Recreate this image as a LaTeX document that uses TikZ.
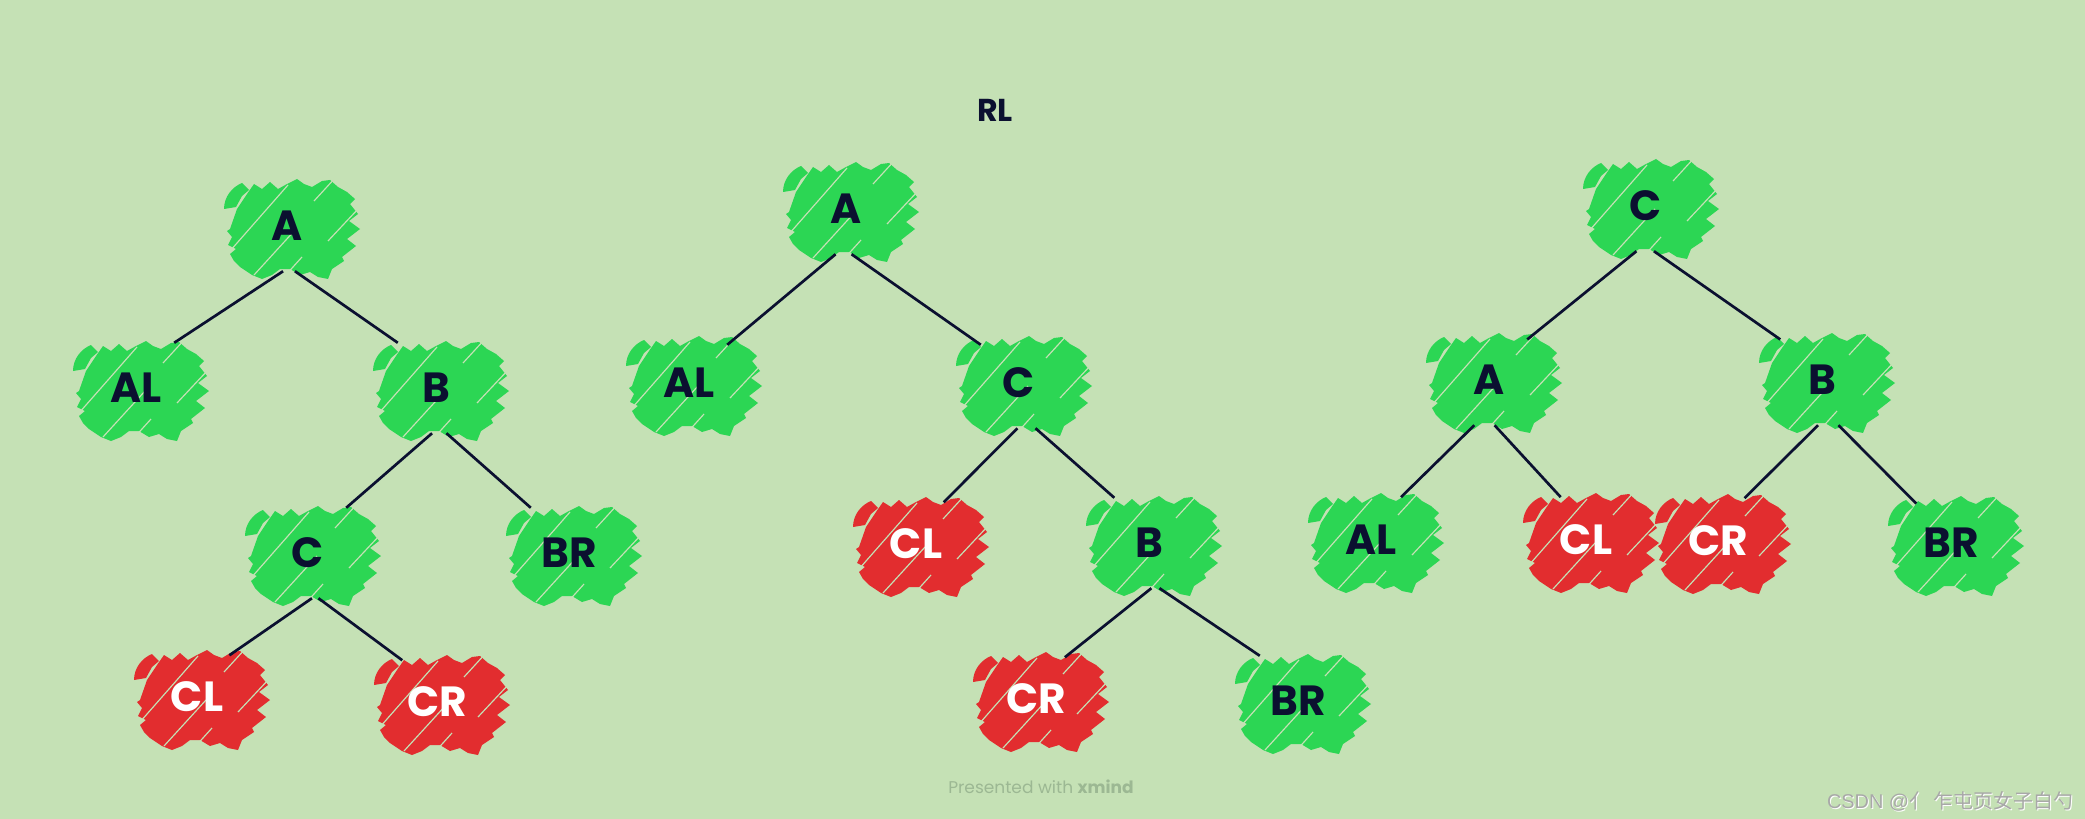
\documentclass[tikz,border=0pt]{standalone}
\usepackage{fontspec}
\setmainfont{Poppins}
\newfontfamily\cjk{Noto Sans CJK SC}
\newfontfamily\wm{Liberation Sans}
\usetikzlibrary{calc}
\definecolor{bgc}{HTML}{C5E1B5}
\definecolor{gfill}{HTML}{2CD654}
\definecolor{rfill}{HTML}{E22D2F}
\definecolor{ink}{HTML}{0B1030}
\definecolor{footc}{HTML}{9CB893}
\definecolor{wmc}{HTML}{A8A8A8}
\tikzset{
  x=0.03cm, y=-0.03cm,
  blob/.pic={
    \fill[#1] (-62,0) -- (-55,-20) -- (-45,-35) -- (-38,-45) -- (-30,-40) -- (-22,-47)
      -- (-14,-40) -- (-5,-45) -- (5,-50) -- (12,-45) -- (20,-42) -- (30,-48)
      -- (38,-49) -- (46,-42) -- (55,-37) -- (63,-30) -- (58,-25) -- (66,-15)
      -- (57,-8) -- (68,0) -- (55,10) -- (64,17) -- (50,28) -- (52,32) -- (40,40)
      -- (36,50) -- (26,48) -- (18,43) -- (8,46) -- (-2,40) -- (-12,40) -- (-20,46)
      -- (-30,50) -- (-40,46) -- (-52,38) -- (-58,32) -- (-62,25) -- (-56,20)
      -- (-64,16) -- (-60,8) -- (-65,2) -- cycle;
    \fill[#1] (-68,-20) .. controls (-68,-32) and (-60,-42) .. (-50,-46) -- (-43,-39)
      -- (-50,-33) -- (-56,-22) -- cycle;
    \begin{scope}
      \clip (-70,-60) rectangle (70,60);
      \draw[bgc, line width=1pt] (-62,22) -- (-4,-44);
      \draw[bgc, line width=1pt] (-38,46) -- (4,0);
      \draw[bgc, line width=1pt] (22,-28) -- (44,-52);
      \draw[bgc, line width=1pt] (36,12) -- (66,-20);
      \draw[bgc, line width=1pt] (-8,48) -- (10,28);
    \end{scope}
  },
  lbl/.style={rectangle, inner sep=0pt, minimum width=2.28cm, minimum height=2.7cm,
    font=\fontsize{36}{36}\selectfont\bfseries, text=ink},
  wlbl/.style={lbl, text=white},
  edge/.style={draw=ink, line width=2.3pt}
}
\newcommand\gnode[4]{\pic at ($(#2)+(5,3)$) {blob=gfill}; \node[lbl] (#1) at (#2) {#3};}
\newcommand\rnode[4]{\pic at ($(#2)+(5,3)$) {blob=rfill}; \node[wlbl] (#1) at (#2) {#3};}
\begin{document}
\begin{tikzpicture}
\fill[bgc] (0,0) rectangle (2085,819);
\useasboundingbox (0,0) rectangle (2085,819);

\node[font=\fontsize{27}{27}\selectfont\bfseries, text=ink] (title) at (995,110) {RL};

% Tree 1
\gnode{a1}{287,226}{A}{}
\gnode{al1}{136,388}{AL}{}
\gnode{b1}{436,388}{B}{}
\gnode{c1}{308,553}{C}{}
\gnode{br1}{569,553}{BR}{}
\rnode{cl1}{197,697}{CL}{}
\rnode{cr1}{437,702}{CR}{}
\draw[edge] (a1.265) -- (al1.north east);
\draw[edge] (a1.280) -- (b1.north west);
\draw[edge] (b1.265) -- (c1.north east);
\draw[edge] (b1.283) -- (br1.north west);
\draw[edge] (c1.275) -- ([xshift=-5pt,yshift=-3pt]cl1.north east);
\draw[edge] (c1.283) -- ([xshift=3pt,yshift=-3pt]cr1.north west);

% Tree 2
\gnode{a2}{846,209}{A}{}
\gnode{al2}{689,383}{AL}{}
\gnode{c2}{1019,383}{C}{}
\rnode{cl2}{916,544}{CL}{}
\gnode{b2}{1149,543}{B}{}
\rnode{cr2}{1036,699}{CR}{}
\gnode{br2}{1298,701}{BR}{}
\draw[edge] (a2.257) -- ([yshift=-6pt]al2.north east);
\draw[edge] (a2.277) -- ([yshift=-6pt]c2.north west);
\draw[edge] (c2.268) -- ([xshift=-9pt,yshift=-3pt]cl2.north east);
\draw[edge] (c2.290) -- ([xshift=3pt]b2.north west);
\draw[edge] (b2.273) -- ([xshift=-8pt,yshift=-3pt]cr2.north east);
\draw[edge] (b2.283) -- (br2.north west);

% Tree 3
\gnode{c3}{1646,206}{C}{}
\gnode{a3}{1489,380}{A}{}
\gnode{b3}{1822,380}{B}{}
\gnode{al3}{1371,540}{AL}{}
\rnode{cl3}{1586,540}{CL}{}
\rnode{cr3}{1718,541}{CR}{}
\gnode{br3}{1951,543}{BR}{}
\draw[edge] (c3.258) -- ([yshift=-4pt]a3.north east);
\draw[edge] (c3.280) -- ([xshift=-3pt,yshift=-4pt]b3.north west);
\draw[edge] (a3.252) -- ([xshift=-7pt,yshift=-2pt]al3.north east);
\draw[edge] (a3.277) -- ([xshift=11pt,yshift=-2pt]cl3.north west);
\draw[edge] (b3.265) -- ([xshift=-10pt,yshift=-2pt]cr3.north east);
\draw[edge] (b3.290) -- ([xshift=3pt,yshift=-5pt]br3.north west);

\node[font=\fontsize{14.5}{15}\selectfont, text=footc] (foot) at (1041,787) {Presented with \textbf{xmind}};
\node[text=white, font=\fontsize{17}{18}\selectfont] at (1951,802) {{\wm CSDN @}{\cjk 亻 乍屯页女子白勺}};
\node[text=wmc, font=\fontsize{17}{18}\selectfont] (wmark) at (1950,801) {{\wm CSDN @}{\cjk 亻 乍屯页女子白勺}};
\end{tikzpicture}
\end{document}
